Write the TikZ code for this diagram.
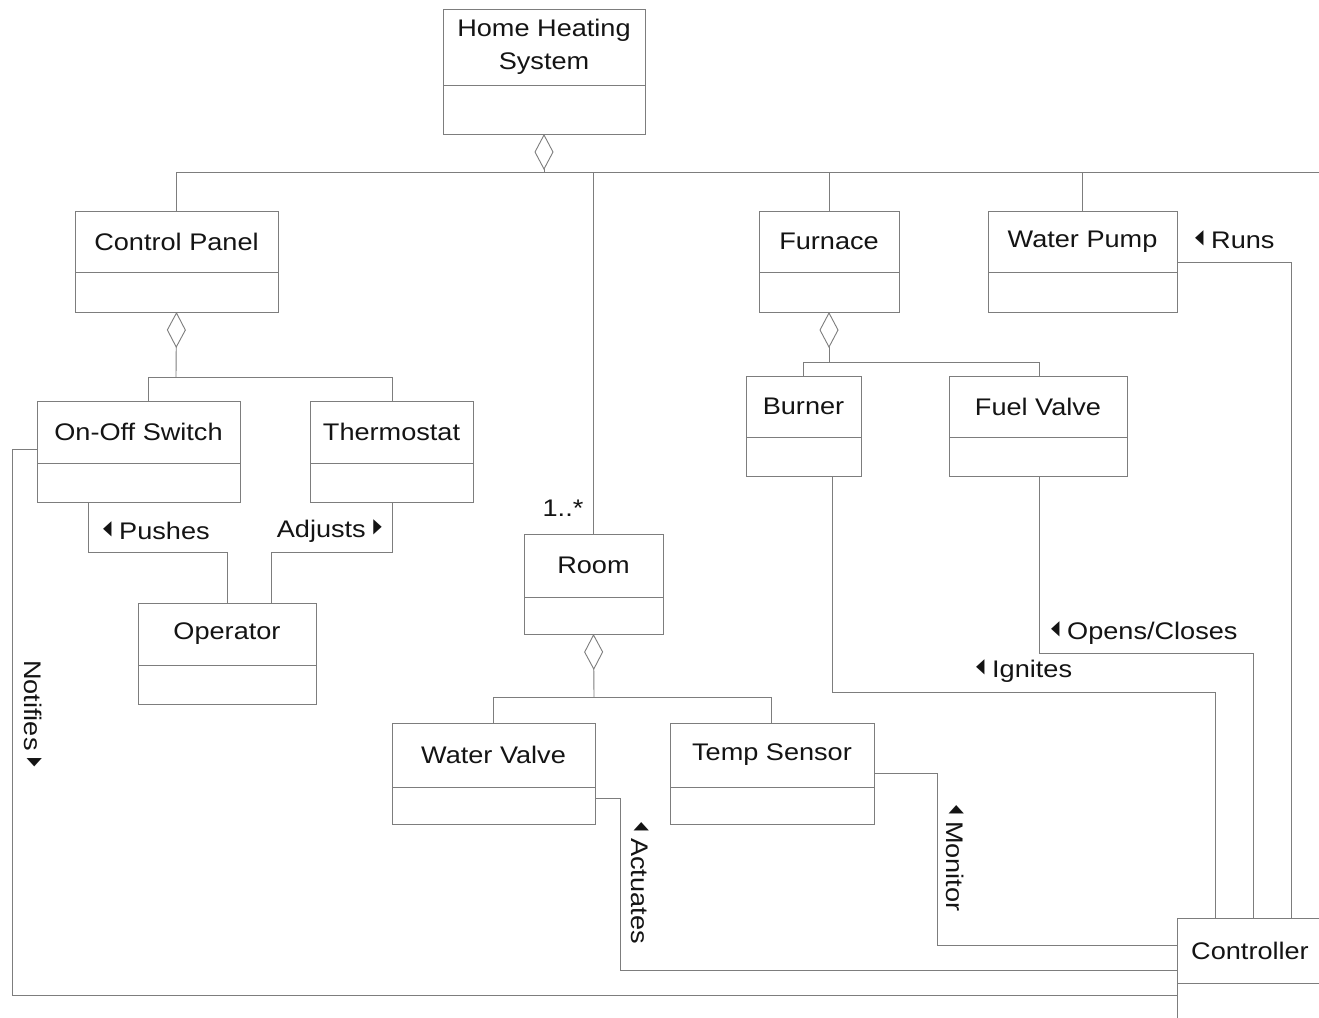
\documentclass[tikz,border=0pt]{standalone}
\usepackage{fontspec}
\setmainfont{Liberation Sans}[FakeStretch=1.13]
\newfontfamily\symfont{DejaVu Sans}
\usetikzlibrary{arrows.meta}
\definecolor{linec}{RGB}{125,125,125}
\definecolor{txtc}{RGB}{20,20,20}
\newcommand\ltri{\raisebox{5pt}{\scalebox{0.55}[1]{\symfont\fontsize{20}{20}\selectfont ◀}}}
\newcommand\rtri{\raisebox{5pt}{\scalebox{0.55}[1]{\symfont\fontsize{20}{20}\selectfont ▶}}}
\tikzset{
  conn/.style={draw=linec, line width=0.9pt},
  agg/.style={conn, {Diamond[open,length=36pt,width=19pt]}-},
  classbox/.style={draw=linec, line width=0.9pt, inner sep=0pt, outer sep=0pt, fill=white},
  classtext/.style={text=txtc, inner sep=0pt, align=center, font=\fontsize{24}{33}\selectfont},
  lab/.style={text=txtc, inner sep=0pt, font=\fontsize{24}{28}\selectfont},
  rlab/.style={lab, rotate=-90},
}
\newcommand\umlclass[7]{%
  \node[classbox, minimum width={(#4-#2)*1pt}, minimum height={(#5-#3)*1pt}] (#1) at ({(#2+#4)/2},{(#3+#5)/2}) {};
  \draw[conn] (#2,#6) -- (#4,#6);
  \node[classtext] (#1-name) at ({(#2+#4)/2},{(#3+#6)/2}) {#7};
}
\begin{document}
\begin{tikzpicture}[x=1pt,y=-1pt]
\useasboundingbox (0,0) rectangle (1319,1017);
\clip (0,0) rectangle (1319,1017);
\fill[white] (0,0) rectangle (1319,1017);

% classes
\umlclass{hhs}{443}{9}{645}{134}{85}{Home Heating\\System}
\umlclass{cp}{75}{211}{278}{312}{272}{Control Panel}
\umlclass{furn}{759}{211}{899}{312}{272}{Furnace}
\umlclass{wp}{988}{211}{1177}{312}{272}{Water Pump}
\umlclass{onoff}{37}{401}{240}{502}{463}{On-Off Switch}
\umlclass{thermo}{310}{401}{473}{502}{463}{Thermostat}
\umlclass{burner}{746}{376}{861}{476}{437}{Burner}
\umlclass{fuel}{949}{376}{1127}{476}{437}{Fuel Valve}
\umlclass{room}{524}{534}{663}{634}{597}{Room}
\umlclass{op}{138}{603}{316}{704}{665}{Operator}
\umlclass{wv}{392}{723}{595}{824}{787}{Water Valve}
\umlclass{ts}{670}{723}{874}{824}{787}{Temp Sensor}
\umlclass{ctrl}{1177}{918}{1323}{1048}{983}{Controller}

% top aggregation bus
\coordinate (busL) at (176,172);
\coordinate (busR) at (1340,172);
\draw[agg] (hhs.south) -- (hhs.south |- busL);
\draw[conn] (cp.north) -- (cp.north |- busL) -- (busR);
\draw[conn] (room.north) -- (room.north |- busL);
\draw[conn] (furn.north) -- (furn.north |- busL);
\draw[conn] (wp.north) -- (wp.north |- busL);
\node[lab] (mult) at (563,508) {1..*};

% control panel aggregation
\coordinate (cpJ) at (176,377);
\coordinate (cpL) at (148,377);
\coordinate (cpR) at (392,377);
\draw[agg] (cp.south) -- (cpJ);
\draw[conn] (cpL |- onoff.north) -- (cpL) -- (cpR) -- (cpR |- thermo.north);

% furnace aggregation
\coordinate (fJ) at (829,362);
\coordinate (fL) at (803,362);
\coordinate (fR) at (1039,362);
\draw[agg] (furn.south) -- (fJ);
\draw[conn] (fL |- burner.north) -- (fL) -- (fR) -- (fR |- fuel.north);

% room aggregation
\coordinate (rJ) at (594,697);
\coordinate (rL) at (493,697);
\coordinate (rR) at (771,697);
\draw[agg] (room.south) -- (rJ);
\draw[conn] (rL |- wv.north) -- (rL) -- (rR) -- (rR |- ts.north);

% Pushes
\coordinate (p1) at (88,552);
\coordinate (p2) at (227,552);
\draw[conn] (p1 |- onoff.south) -- (p1) -- (p2) -- (p2 |- op.north);
\node[lab, anchor=west] (lpush) at (103,531) {\ltri\ Pushes};

% Adjusts
\coordinate (a1) at (392,552);
\coordinate (a2) at (271,552);
\draw[conn] (a1 |- thermo.south) -- (a1) -- (a2) -- (a2 |- op.north);
\node[lab, anchor=east] (ladj) at (382,531) {Adjusts\ \rtri};

% Notifies
\coordinate (n1) at (12,449);
\coordinate (n2) at (12,995);
\draw[conn] (onoff.west |- n1) -- (n1) -- (n2) -- (n2 -| ctrl.west);
\node[rlab, anchor=west] (lnot) at (33,660) {Notifies\ \rtri};

% Actuates
\coordinate (ac1) at (620,798);
\coordinate (ac2) at (620,970);
\draw[conn] (wv.east |- ac1) -- (ac1) -- (ac2) -- (ac2 -| ctrl.west);
\node[rlab, anchor=west] (lact) at (640,822) {\ltri\ Actuates};

% Monitor
\coordinate (m1) at (937,773);
\coordinate (m2) at (937,945);
\draw[conn] (ts.east |- m1) -- (m1) -- (m2) -- (m2 -| ctrl.west);
\node[rlab, anchor=west] (lmon) at (955,805) {\ltri\ Monitor};

% Ignites
\coordinate (i1) at (832,692);
\coordinate (i2) at (1215,692);
\draw[conn] (i1 |- burner.south) -- (i1) -- (i2) -- (i2 |- ctrl.north);
\node[lab, anchor=west] (lign) at (976,671) {\ltri\ Ignites};

% Opens/Closes
\coordinate (o1) at (1039,653);
\coordinate (o2) at (1253,653);
\draw[conn] (o1 |- fuel.south) -- (o1) -- (o2) -- (o2 |- ctrl.north);
\node[lab, anchor=west] (lopen) at (1051,633) {\ltri\ Opens/Closes};

% Runs
\coordinate (r1) at (1291,262);
\draw[conn] (wp.east |- r1) -- (r1) -- (r1 |- ctrl.north);
\node[lab, anchor=west] (lruns) at (1195,240) {\ltri\ Runs};
\end{tikzpicture}
\end{document}
